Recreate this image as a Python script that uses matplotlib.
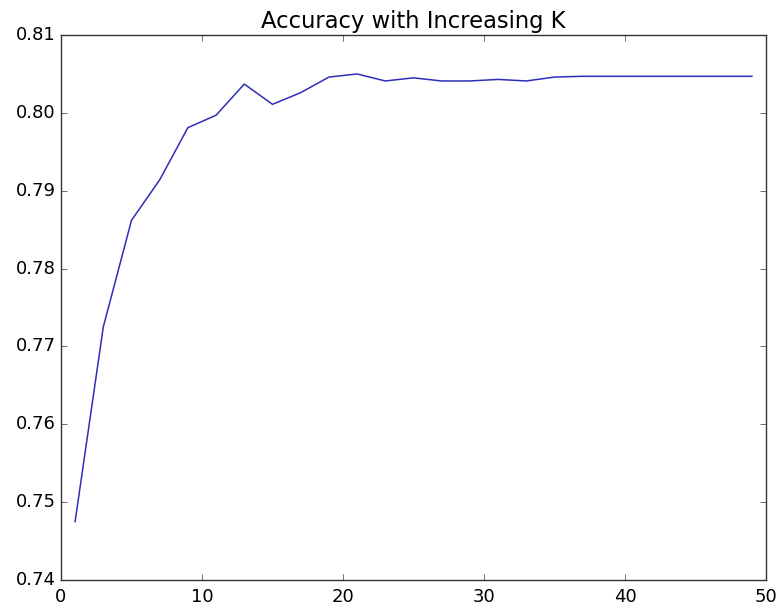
import numpy as np
import matplotlib
matplotlib.use('Agg')
import matplotlib.pyplot as plt

# --- Accuracy of the classifier for odd values of K ---
k_values = [1, 3, 5, 7, 9, 11, 13, 15, 17, 19, 21, 23, 25,
            27, 29, 31, 33, 35, 37, 39, 41, 43, 45, 47, 49]
accuracy = [0.7475, 0.7725, 0.7862, 0.7914, 0.7981, 0.7997, 0.8037, 0.8011,
            0.8026, 0.8046, 0.8050, 0.8041, 0.8045, 0.8041, 0.8041, 0.8043,
            0.8041, 0.8046, 0.8047, 0.8047, 0.8047, 0.8047, 0.8047, 0.8047,
            0.8047]

x_ticks = [0, 10, 20, 30, 40, 50]
y_ticks = [0.74, 0.75, 0.76, 0.77, 0.78, 0.79, 0.80, 0.81]

plt.style.use('classic')

fig = plt.figure(figsize=(7.77, 6.05), dpi=100, facecolor='white')
ax = fig.add_axes([0.0785, 0.0413, 0.9073, 0.9008])

ax.plot(k_values, accuracy, color='#2e2eb8', lw=1.1)

ax.set_xlim(0, 50)
ax.set_ylim(0.74, 0.81)
ax.set_xticks(x_ticks)
ax.set_yticks(y_ticks)
ax.set_yticklabels(['%.2f' % v for v in y_ticks])
ax.tick_params(labelsize=13, direction='in', length=4, color='#333333')
ax.tick_params(axis='x', pad=6)
for spine in ax.spines.values():
    spine.set_color('#333333')

ax.set_title('Accuracy with Increasing K', fontsize=16.3, pad=5)

fig.savefig('out.png', dpi=100, facecolor='white')
